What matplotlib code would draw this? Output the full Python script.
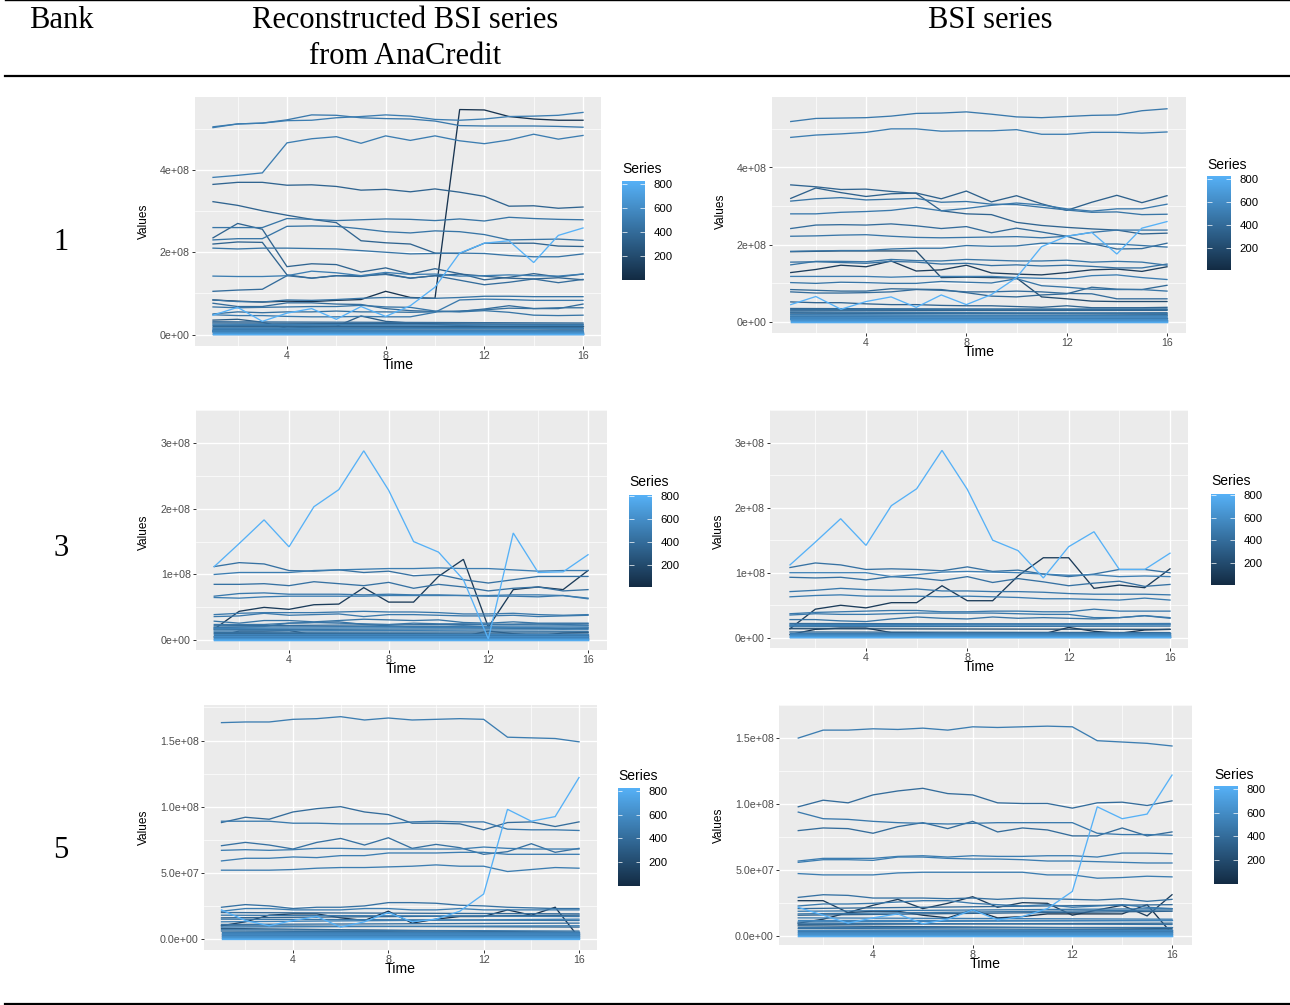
import matplotlib
matplotlib.use("Agg")
import matplotlib.pyplot as plt
import numpy as np
from matplotlib.colors import LinearSegmentedColormap
from matplotlib.lines import Line2D

W, H = 1290, 1005
time = list(range(1, 17))

# values in millions
# bank 1, reconstructed
a_ids = [480, 500, 60, 500, 350, 350, 350, 450, 450, 350, 450, 500, 400, 400, 450, 420, 450, 300, 480, 820]
a_rows = [
    [505, 512, 514, 522, 534, 533, 527, 525, 524, 519, 508, 507, 507, 507, 506, 504],
    [503, 512, 514, 520, 521, 527, 530, 534, 531, 523, 521, 524, 530, 531, 533, 540],
    [84, 81, 79, 81, 80, 83, 85, 105, 90, 88, 547, 546, 530, 524, 521, 521],
    [382, 387, 393, 466, 476, 481, 465, 483, 472, 483, 471, 464, 473, 487, 475, 484],
    [365, 370, 370, 363, 364, 360, 351, 353, 347, 354, 346, 336, 312, 313, 307, 310],
    [323, 314, 301, 290, 280, 272, 228, 223, 220, 198, 197, 222, 222, 222, 215, 214],
    [235, 270, 256, 165, 172, 170, 152, 162, 147, 160, 148, 133, 139, 148, 140, 147],
    [260, 260, 260, 282, 280, 277, 279, 281, 280, 277, 281, 276, 285, 282, 280, 279],
    [230, 233, 233, 263, 264, 263, 257, 250, 247, 252, 250, 243, 230, 231, 232, 229],
    [220, 225, 224, 145, 137, 143, 141, 148, 137, 143, 147, 142, 137, 135, 138, 133],
    [210, 208, 210, 210, 209, 208, 204, 200, 196, 197, 198, 197, 192, 189, 189, 196],
    [142, 141, 141, 143, 154, 150, 143, 151, 146, 147, 142, 143, 145, 143, 142, 147],
    [105, 108, 110, 143, 137, 143, 143, 146, 137, 143, 132, 121, 127, 135, 126, 134],
    [76, 68, 68, 77, 77, 74, 73, 63, 58, 56, 56, 62, 70, 63, 63, 74],
    [67, 65, 66, 67, 68, 68, 71, 67, 66, 57, 55, 58, 54, 47, 46, 47],
    [50, 55, 53, 55, 55, 57, 55, 55, 54, 55, 57, 60, 64, 63, 65, 65],
    [84, 80, 79, 84, 83, 85, 88, 90, 89, 88, 90, 93, 93, 92, 92, 92],
    [35, 37, 30, 15, 18, 20, 45, 32, 28, 25, 22, 20, 17, 15, 14, 14],
    [48, 46, 46, 44, 43, 43, 44, 43, 43, 54, 84, 86, 85, 83, 83, 83],
    [47, 66, 32, 52, 63, 37, 68, 44, 70, 115, 198, 222, 228, 175, 241, 259],
]
a_band_start = [31, 28, 25, 22, 20, 18, 15, 12, 10, 9, 8, 7, 6, 5, 4, 3, 2, 1.5, 1, 0.5]
a_band_end = [28, 25, 22, 24, 20, 17, 14, 15, 11, 8, 9, 6, 7, 5, 4, 3, 2, 1.5, 1, 0.5]
a_band_ids = [400, 350, 500, 450, 300, 420, 520, 480, 350, 550, 450, 500, 420, 600, 520, 640, 580, 700, 680, 780]

# bank 1, BSI
b_ids = [480, 500, 350, 330, 450, 480, 400, 460, 450, 200, 120, 450, 430, 500, 450, 380, 400, 350, 820]
b_rows = [
    [519, 527, 528, 529, 533, 540, 541, 544, 538, 531, 529, 532, 535, 536, 547, 552],
    [478, 484, 487, 491, 500, 500, 494, 495, 495, 498, 486, 486, 491, 491, 489, 492],
    [355, 350, 343, 344, 338, 333, 288, 280, 278, 258, 250, 245, 241, 238, 228, 230],
    [320, 347, 335, 325, 332, 334, 319, 339, 311, 327, 306, 289, 310, 328, 309, 327],
    [313, 319, 322, 316, 318, 320, 310, 312, 305, 304, 297, 290, 284, 285, 278, 279],
    [280, 280, 284, 286, 289, 297, 288, 294, 302, 308, 303, 293, 287, 293, 293, 305],
    [242, 251, 252, 251, 254, 249, 242, 247, 231, 243, 233, 222, 203, 189, 190, 204],
    [222, 223, 225, 226, 222, 219, 218, 219, 220, 221, 218, 222, 232, 238, 238, 238],
    [183, 184, 185, 185, 189, 191, 191, 198, 196, 197, 204, 203, 202, 202, 198, 194],
    [182, 183, 184, 184, 184, 184, 115, 116, 115, 114, 65, 60, 54, 53, 53, 53],
    [128, 136, 147, 143, 158, 132, 135, 147, 127, 124, 122, 128, 135, 137, 131, 143],
    [148, 157, 157, 156, 162, 159, 158, 162, 160, 158, 158, 160, 155, 157, 155, 147],
    [155, 156, 154, 152, 157, 155, 150, 152, 146, 148, 145, 147, 144, 140, 140, 150],
    [118, 118, 118, 118, 116, 118, 118, 118, 118, 115, 113, 112, 120, 122, 115, 110],
    [102, 100, 103, 102, 100, 100, 105, 103, 101, 112, 94, 90, 85, 84, 84, 80],
    [84, 82, 80, 80, 86, 85, 84, 76, 67, 65, 70, 73, 90, 85, 84, 95],
    [78, 75, 75, 76, 78, 84, 82, 78, 78, 80, 78, 74, 73, 60, 60, 60],
    [52, 50, 50, 47, 45, 45, 43, 42, 42, 40, 38, 42, 37, 37, 37, 38],
    [45, 66, 33, 53, 65, 38, 70, 45, 71, 115, 195, 222, 232, 176, 243, 260],
]
b_band_start = [35, 32, 29, 26, 24, 21, 19, 16, 14, 12, 10, 9, 8, 7, 6, 5, 4, 3, 2, 1, 0.5]
b_band_end = [32, 34, 30, 22, 20, 24, 17, 15, 17, 13, 10, 11, 9, 6, 7, 5, 4, 3, 2, 1, 0.5]
b_band_ids = [380, 420, 350, 450, 300, 400, 500, 520, 430, 560, 480, 540, 460, 600, 500, 620, 580, 680, 640, 720, 780]

# bank 3, reconstructed
c_ids = [100, 430, 500, 430, 480, 500, 480, 480, 450, 460, 60, 430, 820]
c_rows = [
    [17, 44, 50, 47, 54, 55, 80, 58, 58, 97, 123, 20, 77, 81, 77, 106],
    [112, 118, 116, 106, 105, 107, 103, 105, 98, 100, 92, 87, 92, 97, 97, 97],
    [100, 103, 103, 103, 106, 107, 108, 109, 109, 110, 109, 109, 107, 105, 106, 106],
    [85, 85, 86, 83, 89, 86, 83, 88, 79, 85, 81, 75, 79, 81, 75, 77],
    [67, 71, 72, 70, 70, 70, 69, 70, 69, 69, 68, 67, 67, 66, 68, 64],
    [65, 64, 66, 67, 67, 67, 67, 68, 68, 68, 68, 68, 69, 69, 68, 63],
    [39, 41, 42, 42, 42, 43, 44, 43, 43, 42, 40, 40, 41, 39, 38, 39],
    [36, 37, 41, 38, 39, 40, 36, 39, 39, 38, 37, 37, 38, 36, 37, 38],
    [29, 26, 30, 30, 28, 30, 32, 31, 30, 31, 27, 26, 28, 26, 26, 26],
    [24, 24, 24, 26, 27, 26, 25, 24, 26, 25, 25, 24, 24, 25, 24, 23],
    [5, 14, 14, 15, 8, 8, 7, 7, 7, 6, 6, 14, 10, 7, 11, 12],
    [19, 20, 21, 26, 27, 28, 24, 22, 20, 20, 22, 20, 19, 19, 17, 19],
    [112, 147, 183, 142, 203, 229, 288, 228, 150, 134, 92, 2, 163, 103, 104, 130],
]
c_band_start = [22, 20, 18, 16, 14, 12, 10, 9, 8, 7, 6, 5, 4, 3, 2.5, 2, 1.5, 1, 0.5]
c_band_end = [25, 22, 20, 18, 16, 13, 11, 9, 8, 7, 6, 5, 4, 3, 2.5, 2, 1.5, 1, 0.5]
c_band_ids = [400, 480, 520, 450, 500, 420, 380, 540, 460, 500, 580, 520, 600, 560, 640, 620, 700, 680, 780]

# bank 3, BSI
d_ids = [100, 430, 520, 430, 480, 500, 480, 480, 450, 60, 820]
d_rows = [
    [14, 44, 50, 46, 54, 54, 80, 57, 57, 95, 123, 123, 76, 81, 77, 106],
    [108, 115, 112, 105, 106, 105, 103, 109, 102, 104, 98, 94, 98, 105, 105, 100],
    [100, 100, 100, 100, 94, 97, 101, 102, 101, 100, 98, 96, 97, 94, 95, 94],
    [93, 92, 93, 89, 94, 92, 88, 94, 85, 91, 86, 80, 84, 87, 79, 82],
    [71, 73, 76, 74, 73, 75, 72, 72, 71, 71, 70, 68, 67, 67, 67, 66],
    [63, 65, 66, 64, 64, 64, 63, 64, 63, 62, 60, 60, 59, 58, 61, 58],
    [37, 39, 40, 41, 42, 42, 40, 40, 41, 41, 40, 40, 44, 41, 41, 41],
    [35, 37, 36, 36, 37, 38, 38, 38, 38, 37, 36, 36, 31, 31, 34, 31],
    [28, 28, 26, 25, 29, 32, 30, 29, 32, 30, 31, 30, 29, 31, 34, 30],
    [5, 13, 15, 15, 8, 8, 7, 7, 7, 6, 6, 16, 10, 7, 12, 13],
    [112, 147, 183, 142, 203, 229, 288, 228, 150, 134, 92, 140, 163, 105, 105, 130],
]
d_band_start = [22, 20, 19, 17, 14, 9, 8, 7, 6, 5, 4, 3, 2.5, 2, 1.5, 1, 0.5]
d_band_end = [21, 22, 20, 18, 13, 8, 8, 7, 6, 5, 4, 3, 2.5, 2, 1.5, 1, 0.5]
d_band_ids = [400, 480, 520, 450, 200, 380, 460, 500, 540, 520, 600, 560, 640, 620, 700, 680, 780]

# bank 5, reconstructed
e_ids = [500, 400, 480, 430, 500, 500, 500, 60, 430, 500, 820]
e_rows = [
    [163.5, 164, 164, 166, 166.5, 168, 165.5, 167, 165.5, 166, 166.5, 166, 152.5, 152, 151.5, 149],
    [88, 92, 90.5, 96, 98.5, 100, 96, 94, 87.5, 87.5, 87, 82.5, 88, 88.5, 85, 88.5],
    [89, 89, 89, 87.5, 87.5, 87, 87, 87, 88.5, 89, 88.5, 88.5, 83, 82.5, 82.5, 82],
    [70.5, 73, 71, 68, 73, 76, 71, 76.5, 68.5, 71.5, 69, 64, 66, 72, 65.5, 68.5],
    [67, 67.5, 67, 67.5, 68.5, 68.5, 68, 68, 68, 68, 68, 69.5, 68.5, 68, 68, 68],
    [59, 61, 61, 62, 61.5, 63, 63, 65, 65, 65, 65.5, 65.5, 64, 64, 64, 64],
    [52, 52, 52, 52.5, 53.5, 54, 54, 54.5, 55, 56, 55, 55, 51, 52.5, 54, 53.5],
    [10, 13, 18, 19, 19, 16, 14, 21, 12, 15, 17, 17, 22, 18, 24, 1],
    [24, 26, 25, 23, 24, 24, 25, 27.5, 27.5, 27, 25.5, 25, 24, 23.5, 23, 23],
    [21, 23, 23, 22, 22, 22, 23, 23, 22, 22, 23, 22, 22, 22, 22, 22],
    [22, 14, 10, 14, 17, 9, 13, 20, 13, 15, 21, 34, 98, 89, 92.5, 122],
]
e_band_start = [20, 18, 16, 15, 13, 11, 10, 9, 8, 7, 6, 5, 4.5, 4, 3.5, 3, 2.5, 2, 1.5, 1, 0.5, 0.2]
e_band_end = [19, 17, 18, 14, 15, 12, 9, 10, 5, 6, 5, 5, 4.5, 4, 3.5, 3, 2.5, 2, 1.5, 1, 0.5, 0.2]
e_band_ids = [400, 480, 350, 450, 520, 430, 380, 500, 300, 460, 420, 500, 540, 480, 560, 520, 600, 580, 620, 660, 700, 780]

# bank 5, BSI
f_ids = [500, 400, 480, 400, 500, 500, 500, 430, 120, 60, 480, 820]
f_rows = [
    [150, 156, 156, 157, 156.5, 157.5, 156, 158.5, 158, 158.5, 159, 158.5, 148, 147, 146, 144],
    [98, 103, 101, 107, 110, 112, 108, 107, 101, 100.5, 100.5, 97, 101, 101.5, 99, 102.5],
    [94, 89, 88.5, 87, 86, 85.5, 85, 85.5, 86, 86, 86, 86, 78, 77, 77, 76.5],
    [80, 82, 81.5, 78, 83, 86, 81.5, 87, 79, 82, 80.5, 76, 76, 82, 76, 79],
    [57, 59, 59, 59, 60.5, 61, 60, 61, 60.5, 60.5, 61, 61, 60, 63, 63, 62.5],
    [56, 58, 58, 57.5, 60, 60, 59, 58.5, 58.5, 58, 57, 57, 56.5, 56, 55.5, 55.5],
    [47.5, 46.5, 46.5, 46.5, 48, 48.5, 48.5, 48.5, 48.5, 48.5, 46.5, 46.5, 44, 44.5, 45.5, 45],
    [29.5, 31.5, 31, 29, 29, 29, 28.5, 29, 28, 29, 28.5, 28, 27.5, 28.5, 26.5, 28],
    [27, 27, 18, 23.5, 28, 21, 25, 30, 22, 25.5, 25, 16, 20, 23.5, 15.5, 31.5],
    [10, 13, 18, 19, 19, 16, 14, 20, 14, 15, 17, 17, 17, 17, 24, 2],
    [23, 24.5, 24.5, 25, 26, 27, 27, 25, 24, 23, 24, 22, 23, 24, 22, 21],
    [22, 16, 10, 14, 17, 9.5, 13, 20, 12.5, 15, 21, 34, 98, 89, 92.5, 122],
]
f_band_start = [21, 19, 17, 16, 14, 12.5, 11, 10, 9, 8, 7, 6, 5, 4.5, 4, 3.5, 3, 2.5, 2, 1.5, 1, 0.5, 0.2]
f_band_end = [24, 21, 20, 19, 13, 12.5, 12, 9, 10, 6, 7, 5, 5, 4.5, 4, 3.5, 3, 2.5, 2, 1.5, 1, 0.5, 0.2]
f_band_ids = [400, 480, 450, 350, 500, 540, 520, 430, 380, 300, 460, 420, 500, 540, 480, 560, 520, 600, 580, 620, 660, 700, 780]

y_ticks_1 = [0, 200, 400]
y_labels_1 = ["0e+00", "2e+08", "4e+08"]
y_ticks_3 = [0, 100, 200, 300]
y_labels_3 = ["0e+00", "1e+08", "2e+08", "3e+08"]
y_ticks_5 = [0, 50, 100, 150]
y_labels_5 = ["0.0e+00", "5.0e+07", "1.0e+08", "1.5e+08"]
x_ticks = [4, 8, 12, 16]
legend_ticks = [200, 400, 600, 800]

plt.rcParams["font.family"] = ["Liberation Sans", "DejaVu Sans"]
cmap = LinearSegmentedColormap.from_list("gg", ["#132B43", "#56B1F7"])
ID_MAX = 820


def colour(i):
    return cmap(min(i, ID_MAX) / ID_MAX)


def ftext(x, y, s, **kw):
    kw.setdefault("ha", "center")
    kw.setdefault("va", "center")
    return fig.text(x / W, 1 - y / H, s, **kw)


def rule(y, lw):
    fig.add_artist(Line2D([5 / W, 1], [1 - y / H, 1 - y / H], color="black", lw=lw))


def panel(ids, rows, bstart, bend, bids, yt, ylab, box, xcal, ycal, leg):
    left, top, right, bottom = box
    ax = fig.add_axes([left / W, 1 - bottom / H, (right - left) / W, (bottom - top) / H])
    # pixel calibration: x 4 / 16, y first / last tick
    xk = (xcal[1] - xcal[0]) / 12
    ax.set_xlim(4 + (left - xcal[0]) / xk, 4 + (right - xcal[0]) / xk)
    yk = (ycal[0] - ycal[1]) / (yt[-1] - yt[0])
    ax.set_ylim(yt[0] + (ycal[0] - bottom) / yk, yt[0] + (ycal[0] - top) / yk)
    ax.set_facecolor("#EBEBEB")
    for s in ax.spines.values():
        s.set_visible(False)
    ax.set_xticks(x_ticks)
    ax.set_yticks(yt)
    ax.set_yticklabels(ylab)
    ax.set_xticks([2, 6, 10, 14], minor=True)
    step = yt[1] - yt[0]
    ax.set_yticks([v + step / 2 for v in yt], minor=True)
    ax.grid(which="major", color="white", lw=1.0)
    ax.grid(which="minor", color="white", lw=0.5)
    ax.set_axisbelow(True)
    ax.tick_params(which="major", length=2.2, width=0.7, color="#333333",
                   labelcolor="#4D4D4D", labelsize=7.7, pad=1.5)
    ax.tick_params(which="minor", length=0)

    lines = [(i, [1, 16], [a, b]) for i, a, b in zip(bids, bstart, bend)]
    lines += [(i, time, r) for i, r in zip(ids, rows)]
    # ggplot draws by series id, lightest last
    for i, xs, ys in sorted(lines, key=lambda t: t[0]):
        ax.plot(xs, ys, color=colour(i), lw=0.95, solid_joinstyle="miter")

    ftext((left + right) / 2 + leg["time_dx"], bottom + 19, "Time", fontsize=10.2, color="black")
    ftext(leg["val_x"], (top + bottom) / 2 + leg["val_dy"], "Values", fontsize=8.6,
          rotation=90, color="black")

    # colour bar
    bl, bt, br, bb = leg["bar"]
    cax = fig.add_axes([bl / W, 1 - bb / H, (br - bl) / W, (bb - bt) / H])
    k = (leg["p200"] - leg["p800"]) / 600
    vtop = 800 + (leg["p800"] - bt) / k
    vbot = 800 - (bb - leg["p800"]) / k
    grad = np.linspace(0, 1, 256)[::-1].reshape(-1, 1)
    cax.imshow(grad, cmap=cmap, aspect="auto", extent=[0, 1, vbot, vtop])
    cax.set_xlim(0, 1)
    cax.set_ylim(vbot, vtop)
    cax.set_xticks([])
    cax.yaxis.tick_right()
    cax.set_yticks(legend_ticks)
    cax.tick_params(length=0, labelsize=8.2, pad=6, labelcolor="black")
    cax.hlines(legend_ticks, 0, 0.2, color="white", lw=0.5)
    cax.hlines(legend_ticks, 0.8, 1, color="white", lw=0.5)
    for s in cax.spines.values():
        s.set_visible(False)
    ftext(bl, leg["title_y"], "Series", fontsize=10, ha="left")


fig = plt.figure(figsize=(W / 100, H / 100), dpi=100, facecolor="white")

rule(0.5, 1.0)
rule(76, 1.6)
rule(1003.5, 1.6)
serif = ["Liberation Serif", "DejaVu Serif"]
ftext(61, 20, "Bank", fontsize=22, family=serif)
ftext(405, 20, "Reconstructed BSI series", fontsize=22, family=serif)
ftext(405, 57, "from AnaCredit", fontsize=22, family=serif)
ftext(990, 20, "BSI series", fontsize=22, family=serif)
ftext(61, 242, "1", fontsize=22, family=serif)
ftext(61, 549, "3", fontsize=22, family=serif)
ftext(61, 850, "5", fontsize=22, family=serif)

panel(a_ids, a_rows, a_band_start, a_band_end, a_band_ids, y_ticks_1, y_labels_1,
      (195, 97, 601, 346), (287, 583), (334.5, 170),
      dict(bar=(622, 181, 645, 280), p800=184, p200=256, title_y=169, val_x=144, val_dy=0, time_dx=0))
panel(b_ids, b_rows, b_band_start, b_band_end, b_band_ids, y_ticks_1, y_labels_1,
      (772, 97, 1186, 333), (866, 1167), (322, 167.5),
      dict(bar=(1207, 176, 1231, 270), p800=179, p200=248, title_y=165, val_x=721, val_dy=-4, time_dx=0))
panel(c_ids, c_rows, c_band_start, c_band_end, c_band_ids, y_ticks_3, y_labels_3,
      (196, 410, 607, 650), (289, 588), (639, 416),
      dict(bar=(629, 495, 652, 587), p800=496, p200=565, title_y=482, val_x=144, val_dy=2, time_dx=0))
panel(d_ids, d_rows, d_band_start, d_band_end, d_band_ids, y_ticks_3, y_labels_3,
      (770, 410, 1188, 648), (866, 1170), (636.5, 416),
      dict(bar=(1211, 494, 1235, 585), p800=495, p200=563, title_y=481, val_x=719, val_dy=2, time_dx=0))
panel(e_ids, e_rows, e_band_start, e_band_end, e_band_ids, y_ticks_5, y_labels_5,
      (204, 705, 597, 950), (293, 579), (939, 740.5),
      dict(bar=(618, 788, 640, 886), p800=791, p200=862, title_y=776, val_x=144, val_dy=0, time_dx=0))
panel(f_ids, f_rows, f_band_start, f_band_end, f_band_ids, y_ticks_5, y_labels_5,
      (779, 705, 1192, 945), (873, 1172), (936, 729),
      dict(bar=(1214, 786, 1238, 884), p800=789, p200=860, title_y=775, val_x=719, val_dy=0, time_dx=0))

fig.savefig("out.png", dpi=100)
